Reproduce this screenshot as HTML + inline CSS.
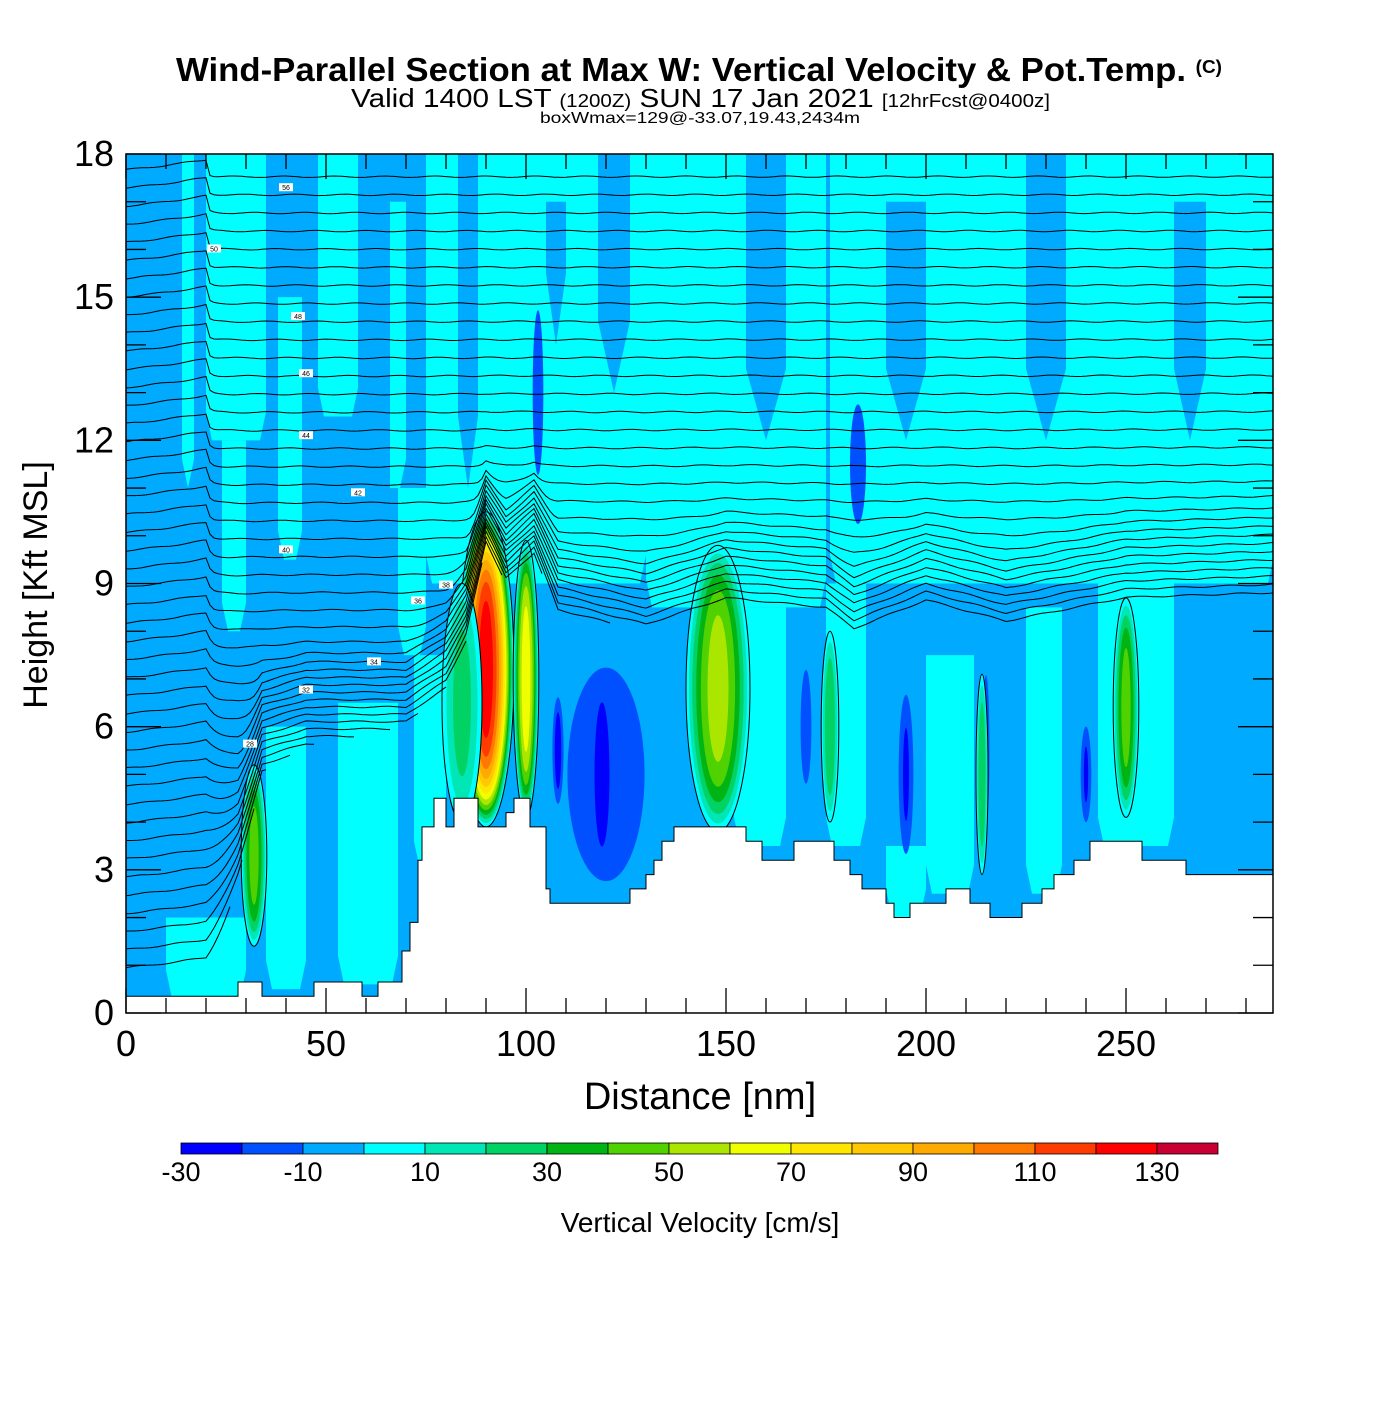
<!DOCTYPE html>
<html><head><meta charset="utf-8">
<style>
html,body{margin:0;padding:0;background:#fff;}
body{width:1400px;height:1400px;overflow:hidden;font-family:"Liberation Sans",sans-serif;}
svg text{font-family:"Liberation Sans",sans-serif;}
</style></head>
<body>
<svg id="chart" width="1400" height="1400" xmlns="http://www.w3.org/2000/svg">
<text x="176" y="81" font-size="33" font-weight="bold" textLength="1046" lengthAdjust="spacingAndGlyphs">Wind-Parallel Section at Max W: Vertical Velocity &amp; Pot.Temp. <tspan font-size="18" dy="-8">(C)</tspan></text>
<text x="351" y="107" font-size="26" textLength="699" lengthAdjust="spacingAndGlyphs">Valid 1400 LST <tspan font-size="18">(1200Z)</tspan> SUN 17 Jan 2021 <tspan font-size="18">[12hrFcst@0400z]</tspan></text>
<text x="540" y="123" font-size="16" textLength="320" lengthAdjust="spacingAndGlyphs">boxWmax=129@-33.07,19.43,2434m</text>
<defs><clipPath id="pc"><rect x="126" y="154" width="1147" height="859"/></clipPath></defs>
<g id="plot" clip-path="url(#pc)"></g>
<g id="axes"></g>
<g id="cbar"></g>
<text transform="translate(47,585) rotate(-90)" text-anchor="middle" font-size="34">Height [Kft MSL]</text>
<text x="700" y="1109" text-anchor="middle" font-size="38">Distance [nm]</text>
<text x="700" y="1232" text-anchor="middle" font-size="28">Vertical Velocity [cm/s]</text>
</svg>
<script>
// ---- data ----
const levelBounds = [-30,-20,-10,0,10,20,30,40,50,60,70,80,90,100,110,120,130,140];
const levelColors = ["#0000ff","#0050ff","#00aaff","#00ffff","#00e6b4","#00d264","#00b414","#50d200","#aae600","#f0ff00","#ffe600","#ffc800","#ffaa00","#ff7800","#ff3c00","#ff0000","#c80032"];
const colorbarLabels = [-30,-10,10,30,50,70,90,110,130];
const xTicks = [0,50,100,150,200,250];
const yTicks = [0,3,6,9,12,15,18];
const terrainX = [0,28,34,47,59,63,69,71,73,74,77,80,82,85,88,95,97,101,105,106,126,130,132,134,137,155,159,167,177,181,184,190,192,196,205,211,216,224,229,232,237,241,254,265,287];
const terrainH = [0.35,0.65,0.35,0.65,0.35,0.65,1.3,1.9,3.2,3.9,4.5,3.9,4.5,4.5,3.9,4.2,4.5,3.9,2.6,2.3,2.6,2.9,3.2,3.6,3.9,3.6,3.2,3.6,3.2,2.9,2.6,2.3,2.0,2.3,2.6,2.3,2.0,2.3,2.6,2.9,3.2,3.6,3.2,2.9,2.9];
const cyanX0 = [14,20,24,38,48,62,68,75,130,176,35,53,72,152,175,200,225,243,10,190];
const cyanX1 = [17,35,30,44,58,70,75,130,175,287,45,68,80,165,185,212,234,262,30,200];
const cyanB  = [11,12,8,9.5,12.5,11,7.5,9,8.5,9,0.5,0.6,3,3.5,3.5,2.5,2.5,3.5,0.3,2.0];
const cyanT  = [18,18,12,15,18,17,11,18,18,18,6,6.5,7.5,8.5,9,7.5,8.5,9,2,3.5];
const blueX0 = [83,118,155,190,225,262,105,0,60];
const blueX1 = [88,126,165,200,235,270,110,8,66];
const blueB  = [11,13,12,12,12,12,14,9,9];
const blueT  = [18,18,18,17,18,17,17,18,18];
const cellX  = [120,108,119,195,240,170,183,103,215,90,100,148,32,250,176,214,84];
const cellH  = [5.0,5.5,5.0,5.0,5.0,6.0,11.5,13,5.5,7.2,7.0,6.8,3.3,6.4,6.0,5.0,6.5];
const cellW  = [14,1.8,3.5,2.5,1.8,2.2,3,2,1.5,7,3.2,8,3.2,3.2,2.2,1.5,5];
const cellHH = [2.8,1.3,2.2,2.0,1.2,1.6,1.6,2.2,2.2,3.3,2.9,3.0,1.9,2.3,2.0,2.1,2.5];
const cellV  = [-19,-25,-28,-22,-22,-16,-18,-18,-15,128,68,56,46,46,30,30,25];
const liftX     = [0,20,28,34,45,70,80,85,90,95,102,108,130,150,175,182,200,220,250,287];
const liftFloor = [0,0.3,2.8,5.0,5.6,6.0,6.8,7.8,9.8,9.0,9.6,8.4,8.0,8.6,8.4,8.0,8.6,8.2,8.7,8.8];
const liftCut   = [0,0,1.0,1.8,2.6,3.6,4.2,4.6,5.0,5.4,5.6,6.0,6.2,6.3,6.3,6.4,6.4,6.5,6.5,6.5];
const liftK     = [1,1,0.55,0.4,0.4,0.4,0.4,0.35,0.25,0.3,0.3,0.4,0.45,0.45,0.45,0.45,0.45,0.45,0.45,0.45];
const isoBase = []; for(let i=0;i<45;i++) isoBase.push(0.8+i*0.38);
const isoLabels = [28,32,34,36,38,40,42,44,46,48,50,56];
const isoLabelX = [31,45,62,73,80,40,58,45,45,43,22,40];
const isoLabelB = [5,5.5,6.9,8.6,8.9,9.7,10.9,12.1,13.4,14.6,16.0,17.3];

const X0=126,X1=1273,Y0=1013,Y1=154;
const sx = d => X0 + d*4;
const sy = h => Y0 - h*(Y0-Y1)/18;
const NS="http://www.w3.org/2000/svg";
function mk(tag, attrs, parent){const e=document.createElementNS(NS,tag);for(const k in attrs)e.setAttribute(k,attrs[k]);parent.appendChild(e);return e;}
const plot=document.getElementById('plot'), axes=document.getElementById('axes'), cbar=document.getElementById('cbar');
function colorFor(v){for(let i=0;i<levelColors.length;i++){if(v<levelBounds[i+1])return levelColors[i];}return levelColors[levelColors.length-1];}

let bg=mk('rect',{x:X0,y:Y1,width:X1-X0,height:Y0-Y1,fill:levelColors[2]},plot);


for(let i=0;i<cyanX0.length;i++){
  const r=mk('polygon',{points:`${sx(cyanX0[i])+6},${sy(cyanB[i])} ${sx(cyanX1[i])-6},${sy(cyanB[i])} ${sx(cyanX1[i])},${sy(cyanB[i]+0.6)} ${sx(cyanX1[i])},${sy(cyanT[i])} ${sx(cyanX0[i])},${sy(cyanT[i])} ${sx(cyanX0[i])},${sy(cyanB[i]+0.6)}`,fill:levelColors[3]},plot);
  
  
}
for(let i=0;i<blueX0.length;i++){
  const r=mk('polygon',{points:`${sx((blueX0[i]+blueX1[i])/2)},${sy(blueB[i])} ${sx(blueX1[i])},${sy(blueB[i]+1.5)} ${sx(blueX1[i])},${sy(blueT[i])} ${sx(blueX0[i])},${sy(blueT[i])} ${sx(blueX0[i])},${sy(blueB[i]+1.5)}`,fill:levelColors[2]},plot);
  
  
}
for(let i=0;i<cellX.length;i++){
  const v=cellV[i];
  const bounds = v>0 ? levelBounds.filter(b=>b>=0 && b<v) : levelBounds.filter(b=>b<=-10 && b>v).reverse();
  bounds.forEach((b)=>{
    const f = Math.sqrt(Math.max(0,1-b/v));
    const col = v>0 ? colorFor(b+0.1) : colorFor(b-0.1);
    const e=mk('ellipse',{cx:sx(cellX[i]),cy:sy(cellH[i]),rx:cellW[i]*4*f,ry:cellHH[i]*(Y0-Y1)/18*Math.pow(f,0.6),fill:col},plot);
    if(b===0){e.setAttribute('stroke','#000');e.setAttribute('stroke-width','1');}
    
    
  });
}
function interp(xs,ys,x){for(let i=0;i<xs.length-1;i++){if(x<=xs[i+1]){const t=(x-xs[i])/(xs[i+1]-xs[i]);return ys[i]+t*(ys[i+1]-ys[i]);}}return ys[ys.length-1];}
function isoH(b,x){const f=interp(liftX,liftFloor,x),k=interp(liftX,liftK,x),c=interp(liftX,liftCut,x);
  if(b<c) return null;
  const a=f+(b-c)*k;const s=0.3;return (a+b+Math.sqrt((a-b)*(a-b)+s*s))/2;}
isoBase.forEach((b,i)=>{
  let segs=[],cur=[];
  for(let x=0;x<=288;x+=1){const h=isoH(b,x);
    if(h===null){if(cur.length>1)segs.push(cur);cur=[];continue;}
    cur.push(sx(x).toFixed(1)+','+sy(h+0.015*Math.sin(x*0.5+i*1.3)).toFixed(1));}
  if(cur.length>1)segs.push(cur);
  segs.forEach(s=>{
    const p=mk('polyline',{points:s.join(' '),fill:'none',stroke:'#000','stroke-width':'1'},plot);
    
    
  });
});
isoLabels.forEach((v,i)=>{
  const h=isoH(isoLabelB[i],isoLabelX[i]); if(h===null) return;
  const x=sx(isoLabelX[i]),y=sy(h);
  const r=mk('rect',{x:x-7,y:y-4,width:14,height:8,fill:'#fff'},plot);
  
  
  const t=mk('text',{x:x,y:y+3,'font-size':'7','text-anchor':'middle'},plot);t.textContent=v;
  
  
});
let tp=[`${sx(0)},${Y0}`];
for(let i=0;i<terrainX.length-1;i++){tp.push(`${sx(terrainX[i])},${sy(terrainH[i])}`);tp.push(`${sx(terrainX[i+1])},${sy(terrainH[i])}`);}
tp.push(`${sx(288)},${sy(terrainH[terrainH.length-1])}`);tp.push(`${sx(288)},${Y0}`);
const ter=mk('polygon',{points:tp.join(' '),fill:'#fff',stroke:'#000','stroke-width':'1'},plot);



const fr=mk('rect',{x:X0,y:Y1,width:X1-X0,height:Y0-Y1,fill:'none',stroke:'#000','stroke-width':'1.5'},axes);


for(let h=0;h<=18;h++){
  const L = h%3===0?35:20;
  mk('line',{x1:X0,x2:X0+L,y1:sy(h),y2:sy(h),stroke:'#000','stroke-width':'1.3'},axes);
  mk('line',{x1:X1-L,x2:X1,y1:sy(h),y2:sy(h),stroke:'#000','stroke-width':'1.3'},axes);
}
for(let d=0;d<=280;d+=10){
  const L = d%50===0?25:15;
  mk('line',{x1:sx(d),x2:sx(d),y1:Y0,y2:Y0-L,stroke:'#000','stroke-width':'1.3'},axes);
  mk('line',{x1:sx(d),x2:sx(d),y1:Y1,y2:Y1+L,stroke:'#000','stroke-width':'1.3'},axes);
}
yTicks.forEach(h=>{const t=mk('text',{x:114,y:sy(h)+12,'font-size':'36','text-anchor':'end'},axes);t.textContent=h;
  
  });
xTicks.forEach(d=>{const t=mk('text',{x:sx(d),y:1056,'font-size':'36','text-anchor':'middle'},axes);t.textContent=d;
  
  });
const cbX=181,cbW=(1218-181)/levelColors.length;
levelColors.forEach((c,i)=>{const r=mk('rect',{x:cbX+i*cbW,y:1143,width:cbW,height:11,fill:c,stroke:'#000','stroke-width':'0.8'},cbar);
  
  });
colorbarLabels.forEach(v=>{const i=levelBounds.indexOf(v);const t=mk('text',{x:cbX+i*cbW,y:1181,'font-size':'27','text-anchor':'middle'},cbar);t.textContent=v;
  
  });
</script>
</body></html>
